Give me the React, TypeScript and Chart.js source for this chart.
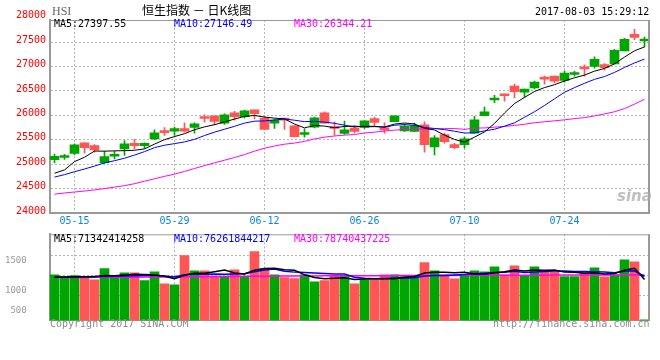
import React, { useEffect, useRef } from 'react';
import { Chart, registerables } from 'chart.js';

Chart.register(...registerables);

const DATES = [
  '05-11', '05-12', '05-15', '05-16', '05-17', '05-18', '05-19', '05-22', '05-23', '05-24',
  '05-25', '05-26', '05-29', '05-31', '06-01', '06-02', '06-05', '06-06', '06-07', '06-08',
  '06-09', '06-12', '06-13', '06-14', '06-15', '06-16', '06-19', '06-20', '06-21', '06-22',
  '06-23', '06-26', '06-27', '06-28', '06-29', '06-30', '07-03', '07-04', '07-05', '07-06',
  '07-07', '07-10', '07-11', '07-12', '07-13', '07-14', '07-17', '07-18', '07-19', '07-20',
  '07-21', '07-24', '07-25', '07-26', '07-27', '07-28', '07-31', '08-01', '08-02', '08-03',
];
const TICK_DATES = ['05-15', '05-29', '06-12', '06-26', '07-10', '07-24'];

const OPEN = [
  25095, 25140, 25226, 25440, 25383, 25034, 25165, 25315, 25431, 25383,
  25520, 25685, 25678, 25733, 25753, 25966, 25993, 25842, 26055, 25973,
  26116, 25945, 25842, 25931, 25788, 25610, 25760, 26055, 25767, 25630,
  25740, 25753, 25938, 25733, 25870, 25685, 25671, 25808, 25356, 25610,
  25404, 25404, 25637, 25993, 26315, 26436, 26598, 26476, 26564, 26781,
  26802, 26714, 26836, 26992, 27000, 27039, 27053, 27317, 27656, 27520,
];
const HIGH = [
  25210, 25205, 25418, 25440, 25404, 25267, 25267, 25486, 25514, 25440,
  25705, 25753, 25760, 25850, 25850, 26014, 25993, 26034, 26082, 26110,
  26116, 25979, 25925, 25938, 25795, 25726, 25966, 26075, 25870, 25883,
  25788, 25890, 25959, 25850, 25993, 25829, 25842, 25870, 25589, 25637,
  25431, 25555, 25979, 26171, 26411, 26436, 26639, 26537, 26700, 26802,
  26802, 26910, 26903, 27032, 27195, 27059, 27351, 27575, 27758, 27602,
];
const LOW = [
  25030, 25100, 25200, 25233, 25247, 25020, 25110, 25185, 25315, 25330,
  25507, 25590, 25590, 25660, 25637, 25863, 25808, 25815, 25904, 25945,
  25931, 25712, 25733, 25712, 25560, 25555, 25747, 25842, 25596, 25610,
  25637, 25733, 25788, 25630, 25870, 25671, 25671, 25247, 25192, 25431,
  25315, 25336, 25637, 25993, 26260, 26293, 26361, 26375, 26544, 26639,
  26666, 26680, 26802, 26802, 26964, 26924, 27053, 27317, 27547, 27398,
];
const CLOSE = [
  25165, 25160, 25397, 25342, 25294, 25157, 25190, 25418, 25383, 25431,
  25644, 25650, 25733, 25678, 25829, 25938, 25877, 26014, 25973, 26096,
  26034, 25712, 25904, 25904, 25568, 25644, 25952, 25842, 25733, 25705,
  25671, 25890, 25856, 25705, 25993, 25781, 25795, 25404, 25541, 25466,
  25342, 25520, 25911, 26075, 26342, 26402, 26483, 26537, 26680, 26741,
  26700, 26863, 26863, 26951, 27147, 26978, 27330, 27554, 27595, 27541,
];
const MA5 = [
  24819, 24887, 25056, 25145, 25272, 25270, 25276, 25280, 25288, 25316,
  25413, 25505, 25568, 25627, 25707, 25766, 25811, 25867, 25926, 25980,
  25999, 25966, 25944, 25930, 25824, 25746, 25794, 25782, 25748, 25775,
  25781, 25768, 25771, 25765, 25823, 25845, 25826, 25736, 25703, 25597,
  25510, 25455, 25556, 25663, 25838, 26050, 26243, 26368, 26489, 26569,
  26628, 26704, 26769, 26824, 26905, 26960, 27054, 27192, 27321, 27400,
];
const MA10 = [
  24740, 24790, 24850, 24905, 24965, 25030, 25075, 25125, 25190, 25260,
  25342, 25391, 25424, 25458, 25511, 25589, 25658, 25718, 25777, 25843,
  25882, 25888, 25906, 25928, 25902, 25873, 25880, 25863, 25839, 25800,
  25764, 25781, 25777, 25757, 25799, 25813, 25797, 25753, 25734, 25710,
  25677, 25640, 25646, 25683, 25718, 25780, 25849, 25962, 26076, 26203,
  26339, 26473, 26569, 26656, 26737, 26794, 26879, 26981, 27072, 27152,
];
const MA30 = [
  24390, 24415, 24435, 24455, 24478, 24505, 24535, 24565, 24605, 24655,
  24705, 24755, 24800, 24855, 24915, 24975, 25030, 25085, 25140, 25200,
  25270, 25330, 25375, 25412, 25435, 25470, 25520, 25556, 25580, 25597,
  25610, 25640, 25658, 25680, 25700, 25712, 25720, 25726, 25728, 25730,
  25732, 25715, 25740, 25745, 25760, 25775, 25795, 25820, 25850, 25870,
  25890, 25910, 25935, 25955, 25990, 26030, 26075, 26140, 26230, 26330,
];

// turnover, hundred-million HKD
const VOLUME = [
  792, 763, 780, 753, 706, 902, 746, 827, 827, 694,
  844, 636, 619, 1127, 862, 862, 763, 763, 879, 763,
  1196, 902, 792, 746, 728, 792, 671, 694, 780, 780,
  636, 706, 706, 792, 792, 763, 763, 1006, 862, 792,
  723, 792, 862, 844, 931, 792, 949, 780, 931, 879,
  844, 763, 763, 844, 914, 758, 792, 1053, 1018, 10,
];
const VMA5 = [
  750, 752, 755, 757, 759, 781, 777, 787, 802, 799,
  788, 766, 724, 784, 818, 821, 847, 875, 826, 806,
  873, 901, 906, 880, 873, 792, 746, 726, 733, 743,
  712, 719, 722, 724, 726, 752, 763, 823, 837, 837,
  829, 835, 806, 803, 830, 844, 876, 859, 877, 866,
  877, 839, 836, 819, 826, 808, 814, 872, 907, 713,
];
const VMA10 = [
  755, 756, 758, 760, 762, 765, 768, 772, 776, 779,
  784, 772, 755, 793, 808, 804, 806, 800, 805, 812,
  847, 874, 891, 853, 839, 832, 823, 816, 806, 808,
  752, 733, 724, 729, 735, 732, 741, 772, 781, 782,
  791, 799, 815, 820, 834, 837, 855, 833, 840, 848,
  860, 858, 848, 848, 846, 843, 827, 854, 863, 763,
];
const VMA30 = [
  745, 746, 746, 747, 748, 749, 750, 751, 752, 754,
  755, 756, 757, 758, 759, 760, 762, 763, 764, 766,
  767, 768, 769, 770, 772, 772, 773, 774, 775, 776,
  776, 777, 778, 778, 779, 780, 780, 781, 781, 782,
  782, 783, 783, 784, 784, 785, 785, 786, 786, 786,
  787, 787, 787, 788, 788, 788, 788, 788, 787, 787,
];

const PRICE_TICKS = [24000, 24500, 25000, 25500, 26000, 26500, 27000, 27500];
const PRICE_TOP_LABEL = 28000;
const VOL_GRID_VALUES = [430, 777, 1124];
const VOL_LABEL_VALUES = [177, 524, 1037];
const VOL_TICK_LABELS = ['500', '1000', '1500'];

const MONO = '"DejaVu Sans Mono", "Liberation Mono", monospace';
const UP = '#00a600';
const DOWN = '#ff5555';
const GRID = '#b4b4b4';
const FRAME = '#999999';

const candleColors = OPEN.map((o, i) => (CLOSE[i] >= o ? UP : DOWN));

const framePlugin = {
  id: 'frame',
  afterDraw(chart: any, _args: any, opts: any) {
    const { ctx, chartArea: a } = chart;
    ctx.save();
    ctx.strokeStyle = FRAME;
    ctx.lineWidth = 1;
    ctx.beginPath();
    ctx.moveTo(a.left, a.top + 0.5);
    ctx.lineTo(a.right, a.top + 0.5);
    ctx.stroke();
    ctx.lineWidth = 2;
    ctx.beginPath();
    ctx.moveTo(a.right - 0.5, a.top);
    ctx.lineTo(a.right - 0.5, a.bottom);
    ctx.stroke();
    if (opts && opts.topLabel) {
      const y = chart.scales.y.getPixelForValue(opts.topLabel) - 2;
      ctx.fillStyle = '#ff0000';
      ctx.font = '10px ' + MONO;
      ctx.textAlign = 'right';
      ctx.textBaseline = 'middle';
      ctx.fillText(String(opts.topLabel), a.left - 3.5, y);
    }
    ctx.restore();
  },
};

const dateGridColor = (ctx: any) =>
  ctx.tick && TICK_DATES.includes(DATES[ctx.tick.value]) ? GRID : 'rgba(0,0,0,0)';

export default function App() {
  const priceRef = useRef<HTMLCanvasElement | null>(null);
  const volRef = useRef<HTMLCanvasElement | null>(null);

  useEffect(() => {
    const lineDs = (label: string, data: number[], color: string, width: number) => ({
      type: 'line' as const,
      label,
      data,
      borderColor: color,
      backgroundColor: color,
      borderWidth: width,
      pointRadius: 0,
      tension: 0,
      order: 0,
    });

    const priceChart = new Chart(priceRef.current as HTMLCanvasElement, {
      type: 'bar',
      data: {
        labels: DATES,
        datasets: [
          lineDs('MA5', MA5, '#000000', 1),
          lineDs('MA10', MA10, '#0000ff', 1),
          lineDs('MA30', MA30, '#ff00ff', 1),
          {
            type: 'bar',
            label: 'wick',
            data: LOW.map((l, i) => [l, HIGH[i]]),
            backgroundColor: candleColors,
            barThickness: 1,
            grouped: false,
            order: 2,
          } as any,
          {
            type: 'bar',
            label: 'body',
            data: OPEN.map((o, i) => [o, CLOSE[i]]),
            backgroundColor: candleColors,
            barThickness: 9,
            minBarLength: 2,
            grouped: false,
            order: 1,
          } as any,
        ],
      },
      options: {
        responsive: false,
        animation: false,
        devicePixelRatio: 1,
        layout: { padding: { top: 20, right: 10.5, left: 0, bottom: 0 } },
        plugins: {
          legend: { display: false },
          tooltip: { enabled: false },
          frame: { topLabel: PRICE_TOP_LABEL },
        } as any,
        scales: {
          x: {
            offset: true,
            grid: { offset: false, color: dateGridColor, drawTicks: false },
            border: { display: true, color: FRAME, width: 2, dash: [2, 2] },
            ticks: {
              autoSkip: false,
              maxRotation: 0,
              padding: 2,
              color: '#0a84e0',
              font: { family: MONO, size: 10 },
              callback: (_v: any, i: number) => (TICK_DATES.includes(DATES[i]) ? DATES[i] : ''),
            },
            afterFit: (s: any) => {
              s.height = 14.7;
            },
          },
          y: {
            min: 24000,
            max: 27950,
            afterBuildTicks: (s: any) => {
              s.ticks = PRICE_TICKS.map((v) => ({ value: v }));
            },
            grid: { color: GRID, drawTicks: false },
            border: { display: true, color: FRAME, width: 2, dash: [2, 2] },
            ticks: {
              color: '#ff0000',
              font: { family: MONO, size: 10 },
              padding: 3.5,
              labelOffset: -2,
              callback: (v: any) => String(v),
            },
            afterFit: (s: any) => {
              s.width = 49.5;
              s.paddingTop = 0;
              s.paddingBottom = 0;
            },
          },
        },
      } as any,
      plugins: [framePlugin],
    });

    const volChart = new Chart(volRef.current as HTMLCanvasElement, {
      type: 'bar',
      data: {
        labels: DATES,
        datasets: [
          lineDs('VMA5', VMA5, '#000000', 1.5),
          lineDs('VMA10', VMA10, '#0000ff', 1.5),
          lineDs('VMA30', VMA30, '#ff00ff', 1.5),
          {
            type: 'bar',
            label: 'volume',
            data: VOLUME,
            backgroundColor: candleColors,
            barThickness: 9,
            order: 1,
          } as any,
        ],
      },
      options: {
        responsive: false,
        animation: false,
        devicePixelRatio: 1,
        layout: { padding: { top: 6.3, right: 10.5, left: 0, bottom: 39.5 } },
        plugins: {
          legend: { display: false },
          tooltip: { enabled: false },
          frame: {},
        } as any,
        scales: {
          x: {
            offset: true,
            grid: { offset: false, color: dateGridColor, drawTicks: false },
            border: { display: true, color: FRAME, width: 1, dash: [2, 2] },
            ticks: { display: false, autoSkip: false },
            afterFit: (s: any) => {
              s.height = 0;
            },
          },
          y: {
            min: 0,
            max: 1495,
            afterBuildTicks: (s: any) => {
              s.ticks = [...VOL_LABEL_VALUES, ...VOL_GRID_VALUES].map((v) => ({ value: v }));
            },
            grid: {
              color: (ctx: any) =>
                ctx.tick && VOL_GRID_VALUES.includes(ctx.tick.value) ? GRID : 'rgba(0,0,0,0)',
              drawTicks: false,
            },
            border: { display: true, color: FRAME, width: 2, dash: [2, 2] },
            ticks: {
              color: '#9a9a9a',
              font: { family: MONO, size: 9 },
              padding: 22.8,
              callback: (v: any) => {
                const k = VOL_LABEL_VALUES.indexOf(v);
                return k >= 0 ? VOL_TICK_LABELS[k] : '';
              },
            },
            afterFit: (s: any) => {
              s.width = 49.5;
              s.paddingTop = 0;
              s.paddingBottom = 0;
            },
          },
        },
      } as any,
      plugins: [framePlugin],
    });

    return () => {
      priceChart.destroy();
      volChart.destroy();
    };
  }, []);

  const txt = (left: number, top: number, color: string, extra: any = {}) => ({
    position: 'absolute' as const,
    left,
    top,
    color,
    fontFamily: MONO,
    fontSize: 10,
    lineHeight: '12px',
    whiteSpace: 'pre' as const,
    ...extra,
  });

  return (
    <div
      style={{
        position: 'fixed',
        left: 0,
        top: 0,
        width: 660,
        height: 360,
        background: '#ffffff',
        overflow: 'hidden',
      }}
    >
      <canvas ref={priceRef} width={660} height={228} style={{ position: 'absolute', left: 0, top: 0 }} />
      <canvas ref={volRef} width={660} height={132} style={{ position: 'absolute', left: 0, top: 228 }} />

      <div style={txt(52, 4, '#666666', { fontFamily: '"Liberation Serif", serif', fontSize: 12, lineHeight: '14px' })}>HSI</div>
      <div
        style={txt(142, 3, '#000000', {
          fontFamily: '"Noto Sans CJK SC", sans-serif',
          fontSize: 12,
          lineHeight: '14px',
        })}
      >
        恒生指数 － 日K线图
      </div>
      <div style={txt(535, 6, '#000000')}>2017-08-03 15:29:12</div>

      <div style={txt(54, 17.7, '#000000')}>MA5:27397.55</div>
      <div style={txt(174, 17.7, '#0000ff')}>MA10:27146.49</div>
      <div style={txt(294, 17.7, '#ff00ff')}>MA30:26344.21</div>

      <div
        style={txt(617, 187, 'rgba(170,170,170,0.75)', {
          fontFamily: '"DejaVu Sans", sans-serif',
          fontSize: 15,
          fontStyle: 'italic',
          fontWeight: 'bold',
          lineHeight: '18px',
        })}
      >
        sina
      </div>

      <div style={txt(54, 233, '#000000')}>MA5:71342414258</div>
      <div style={txt(174, 233, '#0000ff')}>MA10:76261844217</div>
      <div style={txt(294, 233, '#ff00ff')}>MA30:78740437225</div>

      <div style={txt(50, 318, '#8c8c8c')}>Copyright 2017 SINA.COM</div>
      <div style={txt(493, 318, '#8c8c8c')}>http://finance.sina.com.cn</div>
    </div>
  );
}
